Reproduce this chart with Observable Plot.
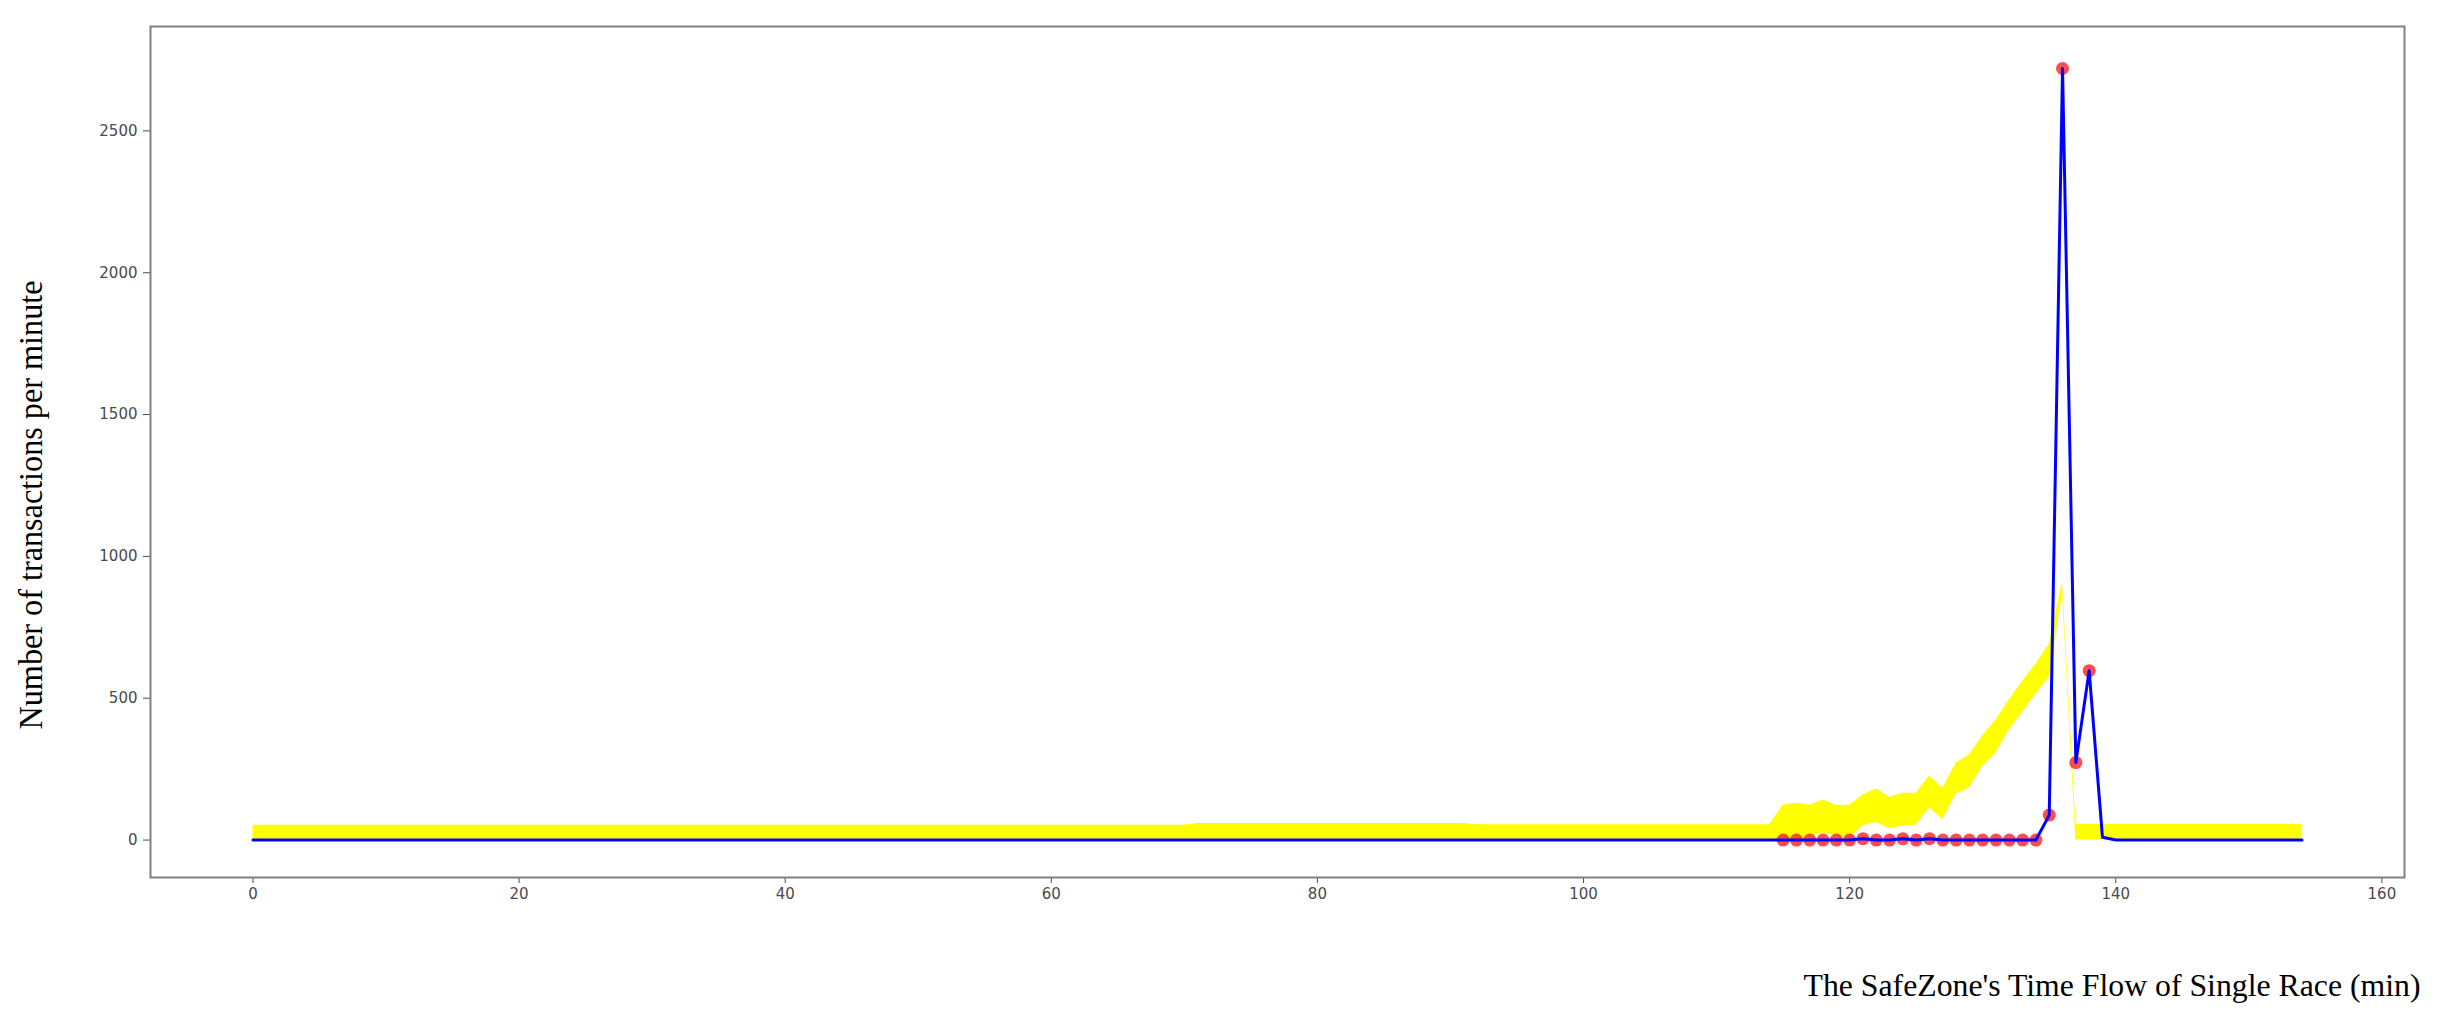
<!DOCTYPE html>
<html>
<head>
<meta charset="utf-8">
<script src="https://cdn.jsdelivr.net/npm/d3@7"></script>
<script src="https://cdn.jsdelivr.net/npm/@observablehq/plot@0.6"></script>
<style>
  html, body { margin: 0; padding: 0; background: #fff; }
  #chart { width: 2443px; height: 1021px; }
</style>
</head>
<body>
<div id="chart"></div>
<script>
// ---- Data ----
const minutes = d3.range(0, 155); // one sample per minute, 0..154

const transactions = [
  0,0,0,0,0,0,0,0,0,0,0,0,0,0,0,0,0,0,0,0,
  0,0,0,0,0,0,0,0,0,0,0,0,0,0,0,0,0,0,0,0,
  0,0,0,0,0,0,0,0,0,0,0,0,0,0,0,0,0,0,0,0,
  0,0,0,0,0,0,0,0,0,0,0,0,0,0,0,0,0,0,0,0,
  0,0,0,0,0,0,0,0,0,0,0,0,0,0,0,0,0,0,0,0,
  0,0,0,0,0,0,0,0,0,0,0,0,0,0,0,
  0,0,0,0,0,0,5,0,0,5,0,5,0,0,0,0,0,0,0,0,
  88,2720,273,597,10,0,0,0,0,0,0,0,0,0,0,0,0,0,0,0
];

const bandUpper = [
  52,52,52,52,52,52,52,52,52,52,52,52,52,52,52,52,52,52,52,52,
  52,52,52,52,52,52,52,52,52,52,52,52,52,52,52,52,52,52,52,52,
  52,52,52,52,52,52,52,52,52,52,52,52,52,52,52,52,52,52,52,52,
  52,52,52,52,52,52,52,52,52,52,52,
  58,58,58,58,58,58,58,58,58,58,58,58,58,58,58,58,58,58,58,58,58,
  54,54,54,54,54,54,54,54,54,54,54,54,54,54,54,54,54,54,54,54,54,54,54,
  123,131,123,141,123,123,159,180,151,165,165,226,183,271,300,368,423,495,560,620,690,910,
  55,55,55,55,55,55,55,55,55,55,55,55,55,55,55,55,55,55
];

const bandLower = [
  0,0,0,0,0,0,0,0,0,0,0,0,0,0,0,0,0,0,0,0,
  0,0,0,0,0,0,0,0,0,0,0,0,0,0,0,0,0,0,0,0,
  0,0,0,0,0,0,0,0,0,0,0,0,0,0,0,0,0,0,0,0,
  0,0,0,0,0,0,0,0,0,0,0,0,0,0,0,0,0,0,0,0,
  0,0,0,0,0,0,0,0,0,0,0,0,0,0,0,0,0,0,0,0,
  0,0,0,0,0,0,0,0,0,0,0,0,0,0,0,
  5,5,12,24,14,6,50,62,40,49,53,113,72,162,183,260,306,390,450,515,574,870,
  0,0,0,0,0,0,0,0,0,0,0,0,0,0,0,0,0,0
];

// minutes that carry a marker dot
const markedFrom = 115;
const markedTo = 138;

const xTicks = [0, 20, 40, 60, 80, 100, 120, 140, 160];
const yTicks = [0, 500, 1000, 1500, 2000, 2500];

const xLabel = "The SafeZone's Time Flow of Single Race (min)";
const yLabel = "Number of transactions per minute";

// ---- Table built from the arrays ----
const data = minutes.map((m, i) => ({
  minute: m,
  value: transactions[i],
  lo: bandLower[i],
  hi: bandUpper[i]
}));
const marked = data.filter(d => d.minute >= markedFrom && d.minute <= markedTo);

const chart = Plot.plot({
  width: 2443,
  height: 1021,
  marginLeft: 150,
  marginRight: 39,
  marginTop: 26,
  marginBottom: 144,
  style: {
    fontFamily: "DejaVu Sans",
    fontSize: "15px",
    color: "#4a4a4a",
    background: "#fff",
    overflow: "visible"
  },
  x: {
    domain: [-7.7, 161.7],
    ticks: xTicks,
    tickSize: 6,
    tickPadding: 5,
    label: null
  },
  y: {
    domain: [-132, 2868],
    ticks: yTicks,
    tickSize: 7,
    tickPadding: 6,
    tickFormat: d3.format("d"),
    label: null
  },
  marks: [
    Plot.areaY(data, {x: "minute", y1: "lo", y2: "hi", fill: "#ffff00", curve: "linear"}),
    Plot.dot(marked, {x: "minute", y: "value", r: 6.5, fill: "#ff0000", fillOpacity: 0.7, stroke: "none"}),
    Plot.line(data, {x: "minute", y: "value", stroke: "#0000ff", strokeWidth: 3, curve: "linear"}),
    Plot.frame({stroke: "#808080", strokeWidth: 2}),
    Plot.text([xLabel], {
      frameAnchor: "bottom-right", text: d => d,
      dx: 16, dy: 108, textAnchor: "end", lineAnchor: "middle",
      fontFamily: "Liberation Serif", fontSize: 32, fill: "#000"
    }),
    Plot.text([yLabel], {
      frameAnchor: "left", text: d => d,
      dx: -119, dy: 53, rotate: -90, textAnchor: "middle", lineAnchor: "middle",
      fontFamily: "Liberation Serif", fontSize: 34, fill: "#000"
    })
  ]
});

d3.select(chart).selectAll("text").each(function() {
  const t = this.textContent;
  if (t === xLabel) d3.select(this).attr("textLength", 617).attr("lengthAdjust", "spacingAndGlyphs");
  if (t === yLabel) d3.select(this).attr("textLength", 449).attr("lengthAdjust", "spacingAndGlyphs");
});

document.getElementById("chart").appendChild(chart);
</script>
</body>
</html>
